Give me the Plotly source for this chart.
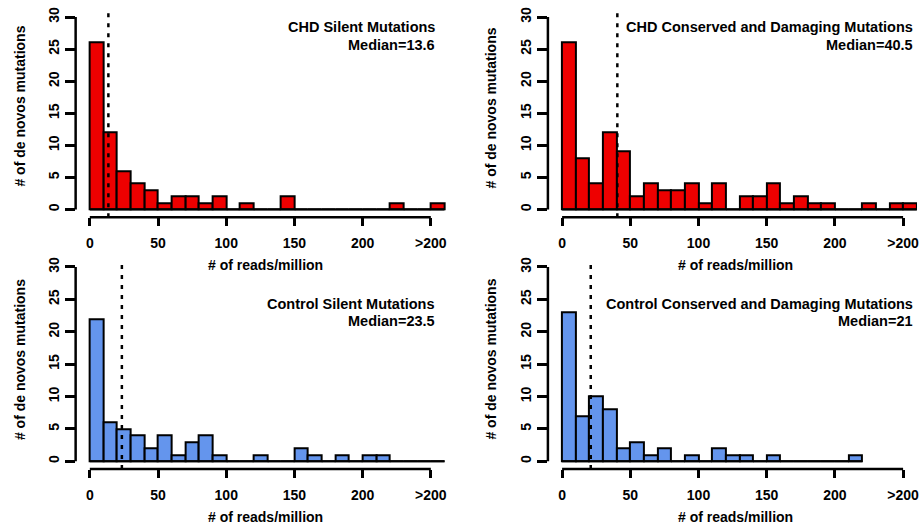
import plotly.graph_objects as go

# ---------------- data ----------------
BIN_WIDTH = 10
chd_silent = [26, 12, 6, 4, 3, 1, 2, 2, 1, 2, 0, 1, 0, 0, 2, 0, 0, 0, 0, 0, 0, 0, 1, 0, 0, 1]
chd_damaging = [26, 8, 4, 12, 9, 2, 4, 3, 3, 4, 1, 4, 0, 2, 2, 4, 1, 2, 1, 1, 0, 0, 1, 0, 1, 1]
ctrl_silent = [22, 6, 5, 4, 2, 4, 1, 3, 4, 1, 0, 0, 1, 0, 0, 2, 1, 0, 1, 0, 1, 1, 0, 0, 0, 0]
ctrl_damaging = [23, 7, 10, 8, 2, 3, 1, 2, 0, 1, 0, 2, 1, 1, 0, 1, 0, 0, 0, 0, 0, 1]

titles = ["CHD Silent Mutations", "CHD Conserved and Damaging Mutations",
          "Control Silent Mutations", "Control Conserved and Damaging Mutations"]
medians = [13.6, 40.5, 23.5, 21]
median_labels = ["13.6", "40.5", "23.5", "21"]

x_tick_vals = [0, 50, 100, 150, 200, 250]
x_tick_text = ["0", "50", "100", "150", "200", ">200"]
y_tick_vals = [0, 5, 10, 15, 20, 25, 30]

RED = "#EE0000"
BLUE = "#6495ED"
series = [chd_silent, chd_damaging, ctrl_silent, ctrl_damaging]
colors = [RED, RED, BLUE, BLUE]

W, H = 919, 529
FONT = "Liberation Sans, Arial, sans-serif"
TICK_SIZE = 14
TITLE_SIZE = 14
PANEL_TITLE_SIZE = 14.5

# panel geometry (pixels): left, right, top, bottom of plot region
panels_px = [
    (75.8, 459.6, 7.4, 216.0),
    (549.1, 919.0, 7.4, 216.0),
    (75.8, 459.6, 258.2, 468.8),
    (549.1, 919.0, 258.2, 468.8),
]
x_scale = 1.367  # px per data unit
x_ranges = []
for (l, r, t, b) in panels_px:
    x_ranges.append([-10.4, -10.4 + (r - l) / x_scale])

fig = go.Figure()
layout = dict(
    width=W, height=H, margin=dict(l=0, r=0, t=0, b=0),
    paper_bgcolor="white", plot_bgcolor="white", showlegend=False,
    font=dict(family=FONT, size=13, color="black"),
)
shapes = []
annotations = []

for i, counts in enumerate(series):
    n = i + 1
    xa = "x" if n == 1 else f"x{n}"
    ya = "y" if n == 1 else f"y{n}"
    l, r, t, b = panels_px[i]
    centers = [k * BIN_WIDTH + BIN_WIDTH / 2 for k in range(len(counts))]
    # baseline (zero-height bins)
    fig.add_trace(go.Scatter(x=[0, len(counts) * BIN_WIDTH], y=[0, 0], mode="lines",
                             line=dict(color="black", width=2.2), xaxis=xa, yaxis=ya,
                             hoverinfo="skip"))
    fig.add_trace(go.Bar(x=centers, y=counts, width=BIN_WIDTH,
                         marker=dict(color=colors[i], line=dict(color="black", width=2)),
                         xaxis=xa, yaxis=ya))
    axis_common = dict(showgrid=False, zeroline=False, showline=False, ticks="outside",
                       tickcolor="black", tickwidth=2.5, fixedrange=True,
                       ticklabeloverflow="allow",
                       tickfont=dict(family=FONT, size=TICK_SIZE, color="black", weight="bold"))
    layout["xaxis" if n == 1 else f"xaxis{n}"] = dict(
        axis_common, domain=[l / W, r / W], range=x_ranges[i], anchor=ya,
        tickvals=x_tick_vals, ticktext=x_tick_text, ticklen=8, ticklabelstandoff=5)
    layout["yaxis" if n == 1 else f"yaxis{n}"] = dict(
        axis_common, domain=[1 - b / H, 1 - t / H], range=[-1.2, 31.2], anchor=xa,
        tickvals=y_tick_vals, ticklen=10, tickangle=-90, ticklabelstandoff=0)
    # axis lines (R style, detached)
    shapes.append(dict(type="line", xref=f"{xa} domain", yref=ya, x0=0, x1=0, y0=0, y1=30,
                       line=dict(color="black", width=2.5)))
    shapes.append(dict(type="line", xref=xa, yref=f"{ya} domain", x0=0, x1=250, y0=0, y1=0,
                       line=dict(color="black", width=2.5)))
    # median line
    shapes.append(dict(type="line", xref=xa, yref=f"{ya} domain", x0=medians[i], x1=medians[i],
                       y0=0, y1=1, line=dict(color="black", width=2.5, dash="4px,6px")))
    # titles
    text_right = 438 if i % 2 == 0 else 917
    top_line = 25 if i < 2 else 302.7
    annotations.append(dict(xref="paper", yref="paper", x=text_right / W, y=1 - top_line / H,
                            text=f"<b>{titles[i]}</b>", showarrow=False, xanchor="right",
                            yanchor="middle", font=dict(size=PANEL_TITLE_SIZE)))
    annotations.append(dict(xref="paper", yref="paper", x=text_right / W,
                            y=1 - (top_line + 18) / H,
                            text=f"<b>Median={median_labels[i]}</b>", showarrow=False,
                            xanchor="right", yanchor="middle", font=dict(size=PANEL_TITLE_SIZE)))
    # axis titles
    xt_x = 266 if i % 2 == 0 else 737.5
    xt_y = 264 if i < 2 else 517
    annotations.append(dict(xref="paper", yref="paper", x=xt_x / W, y=1 - xt_y / H,
                            text="<b># of reads/million</b>", showarrow=False,
                            xanchor="center", yanchor="middle", font=dict(size=TITLE_SIZE)))
    yt_x = 20 if i % 2 == 0 else 492
    yt_y = [104, 106, 358.5, 358][i]
    annotations.append(dict(xref="paper", yref="paper", x=yt_x / W, y=1 - yt_y / H,
                            text="<b># of de novos mutations</b>", showarrow=False,
                            textangle=-90, xanchor="center", yanchor="middle",
                            font=dict(size=TITLE_SIZE)))

layout["shapes"] = shapes
layout["annotations"] = annotations
layout["bargap"] = 0
fig.update_layout(**layout)
fig.write_html("out.html", config={"displayModeBar": False},
               post_script="document.body.style.margin='0';document.body.style.overflow='hidden';")
